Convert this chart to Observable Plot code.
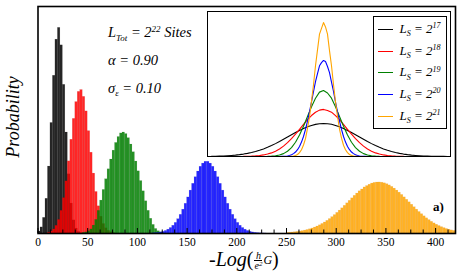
<!DOCTYPE html>
<html><head><meta charset="utf-8">
<script src="https://cdn.jsdelivr.net/npm/d3@7"></script>
<script src="https://cdn.jsdelivr.net/npm/@observablehq/plot@0.6"></script>
<style>
body{margin:0;background:#fff;}
#wrap{position:relative;width:458px;height:273px;font-family:"Liberation Serif","Times New Roman",serif;color:#000;overflow:hidden;background:#fff}
#wrap svg, #wrap svg text{font-family:"Liberation Serif","Times New Roman",serif !important}
.abs{position:absolute;white-space:nowrap}
.sb{font-size:0.62em;position:relative;top:0.38em}
.sp{font-size:0.62em;position:relative;top:-0.6em}
#inset{position:absolute;left:207px;top:11px;width:242px;height:144px;border:1.5px solid #000;background:#fff}
#legend{position:absolute;left:373px;top:16px;width:72px;height:111px;border:1.5px solid #000;background:#fff}
.lrow{position:absolute;left:0;width:72px;height:0}
.lline{position:absolute;left:3.5px;width:15px;height:0;border-top:1.3px solid}
.ltext{position:absolute;left:25.5px;font-size:13px;line-height:13px;font-style:italic;white-space:nowrap}
.frac{display:inline-block;vertical-align:middle;text-align:center;font-size:10px;line-height:9px;font-style:italic;margin:0 1px}
.frac .num{display:block;border-bottom:0.8px solid #000;padding:0 1px}
.frac .den{display:block}
</style></head><body><div id="wrap"></div>
<script>
// ---------- main histograms (bin width 2.5) ----------
const binWidth = 2.5;
const blackStart = 0;
const blackHist = [0.009, 0.027, 0.069, 0.153, 0.295, 0.487, 0.695, 0.854, 0.906, 0.829, 0.655, 0.445, 0.261, 0.132, 0.058, 0.022, 0.007, 0.002];
const redStart = 10;
const redHist = [0.004, 0.009, 0.018, 0.034, 0.060, 0.100, 0.156, 0.230, 0.318, 0.413, 0.505, 0.579, 0.624, 0.632, 0.602, 0.538, 0.451, 0.356, 0.264, 0.183, 0.120, 0.074, 0.042, 0.023, 0.012, 0.006, 0.003];
const greenStart = 45;
const greenHist = [0.003, 0.005, 0.010, 0.018, 0.035, 0.060, 0.100, 0.145, 0.192, 0.239, 0.283, 0.326, 0.365, 0.399, 0.425, 0.441, 0.445, 0.438, 0.420, 0.392, 0.358, 0.317, 0.274, 0.231, 0.186, 0.142, 0.100, 0.065, 0.038, 0.020, 0.010, 0.005, 0.002, 0.001];
const blueStart = 115;
const blueHist = [0.0011, 0.0019, 0.003, 0.0049, 0.0075, 0.0114, 0.0169, 0.0243, 0.0342, 0.0469, 0.0631, 0.0824, 0.105, 0.131, 0.159, 0.189, 0.219, 0.248, 0.273, 0.294, 0.308, 0.316, 0.316, 0.308, 0.294, 0.273, 0.248, 0.219, 0.189, 0.159, 0.131, 0.105, 0.0824, 0.0631, 0.0469, 0.0342, 0.0243, 0.0169, 0.0114, 0.0075, 0.0049, 0.003, 0.0019, 0.0011, 0.0006, 0.0003];
const orangeStart = 250;
const orangeHist = [0.0028, 0.0036, 0.0045, 0.0056, 0.0070, 0.0086, 0.0105, 0.0128, 0.0155, 0.0186, 0.0222, 0.0263, 0.0309, 0.0362, 0.0421, 0.0486, 0.0558, 0.0637, 0.0722, 0.0812, 0.0909, 0.101, 0.111, 0.122, 0.133, 0.144, 0.155, 0.166, 0.176, 0.186, 0.194, 0.203, 0.209, 0.215, 0.220, 0.223, 0.2246,
  0.2249, 0.2238, 0.2212, 0.2171, 0.2120, 0.2054, 0.1978, 0.1892, 0.1799, 0.1699, 0.1593, 0.1485, 0.1375, 0.1267, 0.1157, 0.1051, 0.0947, 0.0851, 0.0758, 0.0671, 0.0590, 0.0515, 0.0446, 0.0385, 0.0330, 0.0281, 0.0237, 0.0199, 0.0167, 0.0138, 0.0114];

const majorTicks = [0, 50, 100, 150, 200, 250, 300, 350, 400];
const minorTicks = [12.5, 25, 37.5, 62.5, 75, 87.5, 112.5, 125, 137.5, 162.5, 175, 187.5, 212.5, 225, 237.5, 262.5, 275, 287.5, 312.5, 325, 337.5, 362.5, 375, 387.5, 412.5];

// ---------- inset curves ----------
const insetBlackStart = -112, insetBlackStep = 4;
const insetBlack = [0.0014, 0.002, 0.0028, 0.0039, 0.0053, 0.0072, 0.0097, 0.0129, 0.0168, 0.0217, 0.0276, 0.0347, 0.043, 0.0527, 0.0637, 0.0759, 0.0894, 0.1039, 0.1192, 0.1349, 0.1508, 0.1663, 0.181, 0.1945, 0.2063, 0.2159, 0.2231, 0.2275,
  0.229, 0.2272, 0.2234, 0.2156, 0.2066, 0.1942, 0.181, 0.1663, 0.1508, 0.1349, 0.1192, 0.1039, 0.0894, 0.0759, 0.0637, 0.0527, 0.043, 0.0347, 0.0276, 0.0217, 0.0168, 0.0129, 0.0097, 0.0072, 0.0053, 0.0039, 0.0028, 0.002, 0.0014, 0.001, 0.0007, 0.0005];
const insetRedStart = -80, insetRedStep = 4;
const insetRed = [0.0008, 0.0014, 0.0024, 0.0041, 0.0068, 0.011, 0.017, 0.025, 0.037, 0.052, 0.072, 0.096, 0.124, 0.155, 0.189, 0.223, 0.256, 0.2845, 0.307, 0.322,
  0.327, 0.320, 0.308, 0.2835, 0.256, 0.223, 0.189, 0.155, 0.124, 0.096, 0.072, 0.052, 0.037, 0.025, 0.017, 0.011, 0.0068, 0.0041, 0.0024, 0.0014, 0.0008];
const insetGreenStart = -64, insetGreenStep = 4;
const insetGreen = [0.0001, 0.0004, 0.001, 0.0023, 0.005, 0.01, 0.02, 0.0365, 0.062, 0.099, 0.149, 0.21, 0.278, 0.346, 0.404, 0.447, 0.458, 0.441, 0.405, 0.346, 0.278, 0.21, 0.149, 0.099, 0.062, 0.0365, 0.02, 0.01, 0.005, 0.0023, 0.001, 0.0004, 0.0001];
const insetBlueStart = -44, insetBlueStep = 2;
const insetBlue = [0.0003, 0.0007, 0.0013, 0.002, 0.004, 0.007, 0.012, 0.02, 0.031, 0.047, 0.07, 0.1, 0.139, 0.188, 0.245, 0.31, 0.38, 0.451, 0.52, 0.575, 0.63, 0.652, 0.667,
  0.66, 0.625, 0.582, 0.517, 0.452, 0.378, 0.31, 0.245, 0.188, 0.139, 0.1, 0.07, 0.047, 0.031, 0.02, 0.012, 0.007, 0.004, 0.002, 0.0013, 0.0007, 0.0003];
const insetOrangeStart = -34, insetOrangeStep = 2;
const insetOrange = [0.001, 0.002, 0.004, 0.007, 0.014, 0.027, 0.047, 0.08, 0.124, 0.195, 0.275, 0.385, 0.498, 0.63, 0.74, 0.85, 0.89, 0.93, 0.9, 0.85, 0.735, 0.63, 0.5, 0.38, 0.28, 0.19, 0.127, 0.078, 0.047, 0.027, 0.014, 0.007, 0.004, 0.002, 0.001];

const seriesLabels = ["17", "18", "19", "20", "21"];
const seriesColors = ["#000000", "#ff0000", "#008000", "#0000ff", "#ffa500"];

// ---------- build ----------
function bins(start, vals) {
  return vals.map((v, i) => ({x1: start + i * binWidth, x2: start + (i + 1) * binWidth, y: v}));
}
function pts(start, step, vals) {
  return vals.map((v, i) => ({x: start + i * step, y: v}));
}
const hists = [
  bins(blackStart, blackHist), bins(redStart, redHist), bins(greenStart, greenHist),
  bins(blueStart, blueHist), bins(orangeStart, orangeHist)
];
const strokeCols = ["#000000", "#900000", "#004000", "#000090", "#c07000"];

const wrap = document.getElementById("wrap");

const main = Plot.plot({
  width: 458, height: 273,
  marginLeft: 37.5, marginRight: 3, marginTop: 6, marginBottom: 40,
  style: {fontFamily: "'Liberation Serif', serif", fontSize: "11.5px", background: "transparent", color: "#000"},
  x: {domain: [0, 420]},
  y: {domain: [0, 1], axis: null},
  marks: [
    ...hists.map((h, k) => Plot.rectY(h, {x1: "x1", x2: "x2", y: "y", fill: seriesColors[k], fillOpacity: 0.85, stroke: strokeCols[k], strokeOpacity: 0.15, strokeWidth: 0.5})),
    Plot.tickX(minorTicks, {x: d => d, insetTop: 223.5, stroke: "#000", strokeWidth: 1}),
    Plot.tickX(majorTicks, {x: d => d, insetTop: 222, stroke: "#000", strokeWidth: 1}),
    Plot.axisX({ticks: majorTicks, tickSize: 0, tickPadding: 4, label: null, fontFamily: "Liberation Serif", fontSize: 11.5, tickFormat: d => String(d)}),
    Plot.frame({stroke: "#000", strokeWidth: 1.6})
  ]
});
main.style.position = "absolute";
main.style.left = "0px";
main.style.top = "0px";
wrap.appendChild(main);

// inset
const insetDiv = document.createElement("div");
insetDiv.id = "inset";
const insetSeries = [
  pts(insetBlackStart, insetBlackStep, insetBlack),
  pts(insetRedStart, insetRedStep, insetRed),
  pts(insetGreenStart, insetGreenStep, insetGreen),
  pts(insetBlueStart, insetBlueStep, insetBlue),
  pts(insetOrangeStart, insetOrangeStep, insetOrange)
];
const insetPlot = Plot.plot({
  width: 242, height: 144, margin: 0,
  style: {background: "white"},
  x: {domain: [-115, 127], axis: null},
  y: {domain: [0, 1], axis: null},
  marks: insetSeries.map((s, k) => Plot.line(s, {x: "x", y: "y", stroke: seriesColors[k], strokeWidth: 1.1}))
});
insetDiv.appendChild(insetPlot);
wrap.appendChild(insetDiv);

// legend
const legend = document.createElement("div");
legend.id = "legend";
seriesLabels.forEach((lab, k) => {
  const cy = 12.5 + k * 21.67;
  const row = document.createElement("div");
  row.className = "lrow";
  row.style.top = cy + "px";
  row.innerHTML = `<div class="lline" style="border-color:${seriesColors[k]};top:-0.6px"></div>` +
    `<div class="ltext" style="top:-7.4px">L<span class="sb">S</span> = 2<span class="sp">${lab}</span></div>`;
  legend.appendChild(row);
});
wrap.appendChild(legend);

// annotations
function addText(html, left, top, style) {
  const d = document.createElement("div");
  d.className = "abs";
  d.setAttribute("style", `left:${left}px;top:${top}px;` + style);
  d.innerHTML = html;
  wrap.appendChild(d);
  return d;
}
const annStyle = "font-size:14.5px;line-height:14.5px;font-style:italic";
addText('L<span class="sb">Tot</span> = 2<span class="sp">22</span> Sites', 108, 25.3, annStyle);
addText('&alpha; = 0.90', 108, 52.8, annStyle);
addText('&sigma;<span class="sb">&epsilon;</span> = 0.10', 108, 80.5, annStyle);
addText('a)', 433, 199.5, "font-size:13px;line-height:13px;font-weight:bold");

// y label
addText('Probability', 13, 117, "font-size:18px;line-height:18px;font-style:italic;transform:translate(-50%,-50%) rotate(-90deg)");

// x label
addText('-Log<span style="font-style:normal">(</span><span class="frac"><span class="num">h</span><span class="den">e<span style="font-size:7px;position:relative;top:-3px">2</span></span></span><span style="font-size:12px;position:relative;top:-2px">G</span><span style="font-style:normal">)</span>',
  209, 250, "font-size:20px;line-height:18px;font-style:italic");
</script></body></html>
